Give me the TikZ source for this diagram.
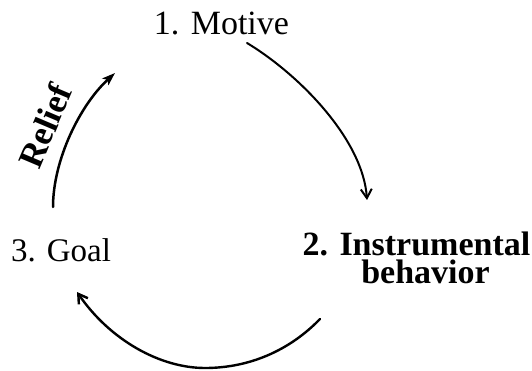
\documentclass[tikz,border=0pt]{standalone}
\usepackage{fontspec}
\setmainfont{Liberation Serif}
\usetikzlibrary{arrows.meta}
\begin{document}
\begin{tikzpicture}[x=1pt,y=-1pt,
  lbl/.style={inner sep=0pt,anchor=base},
  flow/.style={line width=2pt,line cap=round},
  barb/.style={-{Straight Barb[length=9pt,width=11pt]}},
  relief/.style={line width=2.5pt,line cap=round,-{Stealth[length=13pt,width=9pt,inset=3pt]}}]
\useasboundingbox (0,0) rectangle (532,371);
% labels
\node[lbl,font=\fontsize{34}{40}\selectfont] (motive) at (221.5,35) {1. Motive};
\node[lbl,font=\fontsize{33}{40}\selectfont] (goal) at (61,261) {3. Goal};
\node[lbl,font=\fontsize{34}{40}\selectfont\bfseries] (instr) at (416.5,255) {2. Instrumental};
\node[lbl,font=\fontsize{34}{40}\selectfont\bfseries] (instrb) at (425.5,283) {behavior};
% connector end points
\coordinate (m1) at (247,43);
\coordinate (i1) at (367,200);
\coordinate (i2) at (320,319);
\coordinate (bot) at (205,368);
\coordinate (g1) at (77,292);
\coordinate (g2) at (53,207);
\coordinate (m2) at (115,73);
% arrows
\draw[flow,barb] (m1) .. controls (300,75) and (363,140) .. (i1);
\draw[flow,line width=2.4pt,barb] (i2) .. controls (290,350) and (250,368) .. (bot)
   .. controls (160,368) and (110,340) .. (g1);
\draw[relief] (g2) .. controls (53,160) and (80,105) .. (m2);
\node[inner sep=0pt,rotate=67,font=\fontsize{35}{40}\selectfont\bfseries] (rel) at (45,126) {Relief};
\end{tikzpicture}
\end{document}
